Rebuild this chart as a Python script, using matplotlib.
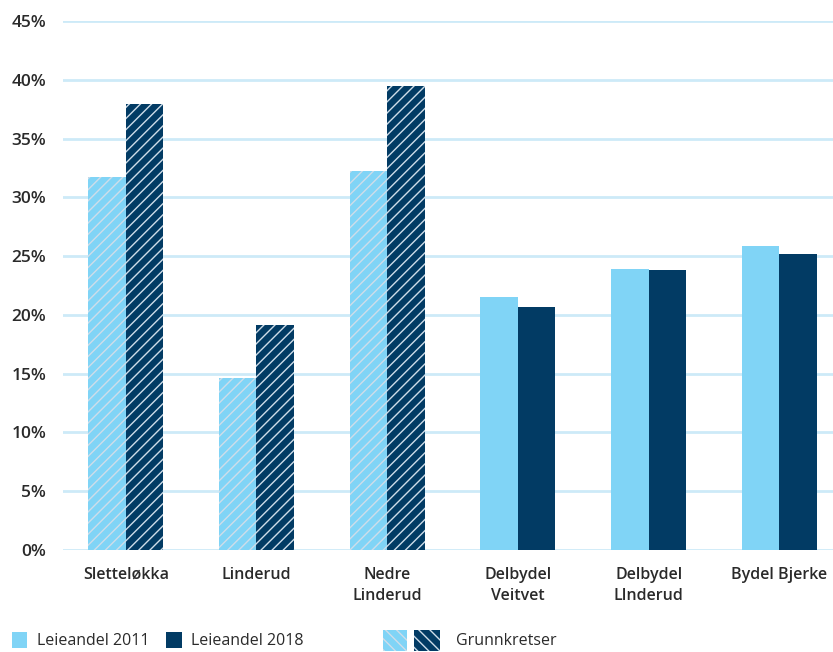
import matplotlib
matplotlib.use("Agg")
import matplotlib.pyplot as plt
import numpy as np
from matplotlib.patches import Rectangle

categories = ["Sletteløkka", "Linderud", "Nedre\nLinderud", "Delbydel\nVeitvet", "Delbydel\nLInderud", "Bydel Bjerke"]
leie_2011 = [31.7, 14.6, 32.2, 21.5, 23.9, 25.9]
leie_2018 = [37.9, 19.1, 39.5, 20.7, 23.8, 25.2]
hatched = [True, True, True, False, False, False]
yticks = [0, 5, 10, 15, 20, 25, 30, 35, 40, 45]
legend_labels = ["Leieandel 2011", "Leieandel 2018", "Grunnkretser"]

LIGHT = "#80d4f6"
DARK = "#023b64"
GRID = "#cdeaf8"
TEXT = "#2a2a2a"

plt.rcParams['font.family'] = ['Open Sans', 'DejaVu Sans']
plt.rcParams['hatch.color'] = '#cfdde9'
plt.rcParams['hatch.linewidth'] = 1.0

fig = plt.figure(figsize=(8.33, 6.52), dpi=100)
ax = fig.add_axes([63/833, 1-550/652, 1-63/833, (550-21)/652])

x = np.arange(len(categories))
w = 0.287
for i in x:
    h = '///' if hatched[i] else None
    ax.bar(i - w/2, leie_2011[i], width=w, color=LIGHT, hatch=h, linewidth=0, zorder=3)
    ax.bar(i + w/2, leie_2018[i], width=w, color=DARK, hatch=h, linewidth=0, zorder=3)

ax.set_xlim(-0.48, 5.41)
ax.set_ylim(0, 45)
ax.set_yticks(yticks)
ax.set_yticklabels([f"{v}%" for v in yticks], fontsize=12.5, color=TEXT, fontweight='semibold')
ax.set_xticks(x)
ax.set_xticklabels(categories, fontsize=11.5, color=TEXT, fontweight='semibold', linespacing=1.45)
ax.tick_params(axis='y', length=0, pad=12)
ax.tick_params(axis='x', length=0, pad=12)
ax.yaxis.grid(True, color=GRID, linewidth=2, zorder=0)
ax.set_axisbelow(True)
for s in ax.spines.values():
    s.set_visible(False)

# legend
W, H = 833, 652
def frect(x0, y0, x1, y1, color, hatch=None):
    r = Rectangle((x0/W, 1-y1/H), (x1-x0)/W, (y1-y0)/H, transform=fig.transFigure,
                  facecolor=color, hatch=hatch, linewidth=0)
    fig.patches.append(r)

frect(12, 632, 27, 648, LIGHT)
fig.text(37/W, 1-641/H, legend_labels[0], fontsize=11.5, color=TEXT, va='center', ha='left')
frect(166, 632, 182, 648, DARK)
fig.text(191/W, 1-641/H, legend_labels[1], fontsize=11.5, color=TEXT, va='center', ha='left')
frect(383, 630, 407, 651, LIGHT, '\\\\\\')
frect(414, 630, 440, 651, DARK, '\\\\\\')
fig.text(456/W, 1-641/H, legend_labels[2], fontsize=11.5, color=TEXT, va='center', ha='left')

fig.savefig("out.png", dpi=100)
